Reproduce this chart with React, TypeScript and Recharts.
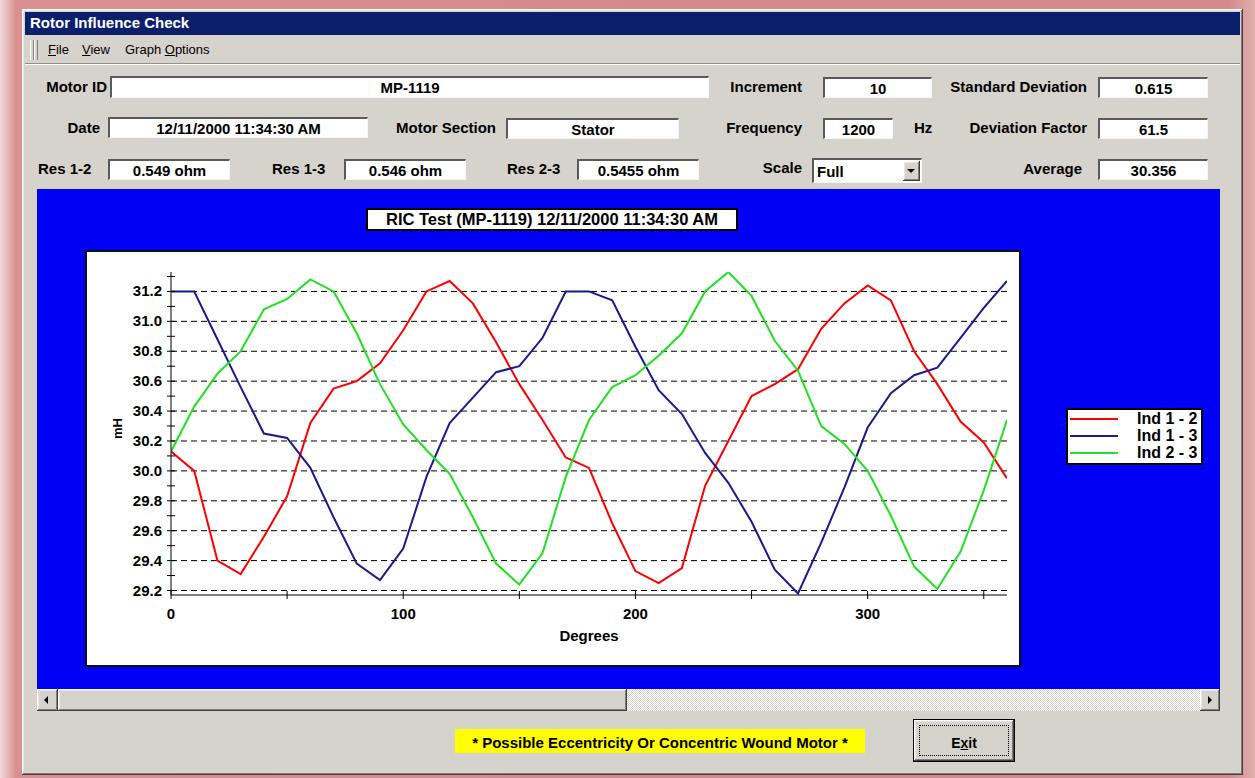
import React from 'react';
import { LineChart, Line, XAxis, YAxis, CartesianGrid, Legend, Label } from 'recharts';

// ---------- data ----------
const degrees = [0, 10, 20, 30, 40, 50, 60, 70, 80, 90, 100, 110, 120, 130, 140, 150, 160, 170, 180, 190, 200, 210, 220, 230, 240, 250, 260, 270, 280, 290, 300, 310, 320, 330, 340, 350, 360];
const ind12 = [30.13, 30.0, 29.4, 29.31, 29.56, 29.83, 30.32, 30.55, 30.6, 30.72, 30.94, 31.2, 31.27, 31.12, 30.86, 30.58, 30.34, 30.09, 30.02, 29.65, 29.33, 29.25, 29.35, 29.9, 30.2, 30.5, 30.58, 30.68, 30.95, 31.12, 31.24, 31.14, 30.8, 30.58, 30.33, 30.19, 29.95];
const ind13 = [31.2, 31.2, 30.88, 30.56, 30.25, 30.22, 30.02, 29.69, 29.38, 29.27, 29.48, 29.96, 30.32, 30.49, 30.66, 30.7, 30.89, 31.2, 31.2, 31.14, 30.83, 30.54, 30.38, 30.12, 29.92, 29.66, 29.34, 29.18, 29.52, 29.89, 30.29, 30.52, 30.64, 30.69, 30.89, 31.09, 31.27];
const ind23 = [30.13, 30.43, 30.65, 30.8, 31.08, 31.15, 31.28, 31.2, 30.92, 30.58, 30.31, 30.14, 29.98, 29.69, 29.38, 29.24, 29.45, 29.96, 30.34, 30.56, 30.64, 30.77, 30.92, 31.2, 31.33, 31.17, 30.87, 30.67, 30.3, 30.18, 30.0, 29.7, 29.36, 29.21, 29.46, 29.87, 30.34];
const seriesNames = ['Ind 1 - 2', 'Ind 1 - 3', 'Ind 2 - 3'];
const xTicks = [0, 50, 100, 150, 200, 250, 300, 350];
const xTickLabels = [0, 100, 200, 300];
const yTicks = [29.2, 29.3, 29.4, 29.5, 29.6, 29.7, 29.8, 29.9, 30.0, 30.1, 30.2, 30.3, 30.4, 30.5, 30.6, 30.7, 30.8, 30.9, 31.0, 31.1, 31.2, 31.3];
const yTickLabels = [29.2, 29.4, 29.6, 29.8, 30.0, 30.2, 30.4, 30.6, 30.8, 31.0, 31.2];

const data = degrees.map((d, i) => ({ deg: d, ind12: ind12[i], ind13: ind13[i], ind23: ind23[i] }));

const FONT = '"Liberation Sans", Arial, sans-serif';
const GRAY = '#d6d3cc';
const UI = 15;

// ---------- chart parts ----------
const XTick = (props: any) => {
  const { x, y, payload } = props;
  const v = payload.value;
  const show = xTickLabels.some((t) => Math.abs(t - v) < 1e-6);
  return (
    <g>
      <line x1={x} x2={x} y1={y - 4} y2={y + 4} stroke="#000" />
      {show && (
        <text x={x} y={y + 24} textAnchor="middle" fontFamily={FONT} fontWeight="bold" fontSize={15} fill="#000">
          {v}
        </text>
      )}
    </g>
  );
};

const YTick = (props: any) => {
  const { x, y, payload } = props;
  const v = payload.value;
  const show = yTickLabels.some((t) => Math.abs(t - v) < 1e-6);
  return (
    <g>
      <line x1={x - 4} x2={x + 4} y1={y} y2={y} stroke="#000" />
      {show && (
        <text x={x - 9} y={y + 5} textAnchor="end" fontFamily={FONT} fontWeight="bold" fontSize={15} fill="#000">
          {v.toFixed(1)}
        </text>
      )}
    </g>
  );
};

const XLabelContent = (props: any) => {
  const vb = props.viewBox || { x: 0, y: 0, width: 0, height: 0 };
  return (
    <text x={vb.x + vb.width / 2} y={vb.y + 46} textAnchor="middle" fontFamily={FONT} fontWeight="bold" fontSize={15} fill="#000">
      Degrees
    </text>
  );
};

const YLabelContent = (props: any) => {
  const vb = props.viewBox || { x: 0, y: 0, width: 0, height: 0 };
  const cx = vb.x + 6;
  const cy = vb.y + vb.height / 2 - 5;
  return (
    <text x={cx} y={cy} transform={`rotate(-90, ${cx}, ${cy})`} textAnchor="middle" dominantBaseline="central" fontFamily={FONT} fontWeight="bold" fontSize={13} fill="#000">
      mH
    </text>
  );
};

const LegendBox = (props: any) => {
  const items = props.payload || [];
  return (
    <div style={{ width: 137, height: 57, boxSizing: 'border-box', background: '#fff', border: '2px solid #000' }}>
      {items.map((it: any) => (
        <div key={it.value} style={{ display: 'flex', alignItems: 'center', height: 17, font: `bold 16px ${FONT}`, color: '#000' }}>
          <span style={{ display: 'inline-block', marginLeft: 2, width: 48, height: 2, background: it.color }} />
          <span style={{ marginLeft: 19, whiteSpace: 'nowrap' }}>{it.value}</span>
        </div>
      ))}
    </div>
  );
};

// ---------- UI helpers ----------
const Lbl = ({ x, right, y, children, bold = true, size = UI }: any) => (
  <div
    style={{
      position: 'absolute',
      top: y - 9,
      height: 18,
      lineHeight: '18px',
      ...(right !== undefined ? { right: 1255 - right } : { left: x }),
      font: `${bold ? 'bold' : 'normal'} ${size}px ${FONT}`,
      color: '#000',
      whiteSpace: 'nowrap',
    }}
  >
    {children}
  </div>
);

const Box = ({ left, top, width, height, children, align = 'center', pad = 0 }: any) => (
  <div
    style={{
      position: 'absolute',
      left,
      top,
      width,
      height,
      boxSizing: 'border-box',
      background: '#fff',
      borderTop: '2px solid #5a5a5a',
      borderLeft: '2px solid #5a5a5a',
      borderBottom: '1px solid #f6f6f6',
      borderRight: '1px solid #f6f6f6',
      font: `bold ${UI}px ${FONT}`,
      color: '#000',
      textAlign: align,
      lineHeight: `${height - 2}px`,
      paddingLeft: pad,
      overflow: 'hidden',
      whiteSpace: 'nowrap',
    }}
  >
    {children}
  </div>
);

const raised = {
  background: GRAY,
  boxShadow: 'inset -1px -1px #404040, inset 1px 1px #ffffff, inset -2px -2px #808080, inset 2px 2px #e8e6e2',
  boxSizing: 'border-box' as const,
};

export default function App() {
  return (
    <div
      style={{
        position: 'absolute',
        left: 0,
        top: 0,
        width: 1255,
        height: 778,
        overflow: 'hidden',
        background: 'linear-gradient(90deg, #f3dcdc 0px, #d99090 16px, #d38a8a 50%, #d38a8a 98%, #e3b0b0 100%)',
        fontFamily: FONT,
      }}
    >
      {/* window */}
      <div style={{ position: 'absolute', left: 22, top: 9, width: 1221, height: 766, ...raised }} />
      {/* title bar */}
      <div style={{ position: 'absolute', left: 25, top: 12, width: 1215, height: 23, background: '#0b1f6a' }} />
      <Lbl x={30} y={23}>
        <span style={{ color: '#fff' }}>Rotor Influence Check</span>
      </Lbl>
      {/* menu */}
      <div style={{ position: 'absolute', left: 30, top: 40, width: 2, height: 20, borderLeft: '1px solid #fff', borderRight: '1px solid #808080' }} />
      <div style={{ position: 'absolute', left: 34, top: 40, width: 2, height: 20, borderLeft: '1px solid #fff', borderRight: '1px solid #808080' }} />
      <Lbl x={48} y={51} bold={false} size={13}>
        <u>F</u>ile
      </Lbl>
      <Lbl x={82} y={51} bold={false} size={13}>
        <u>V</u>iew
      </Lbl>
      <Lbl x={125} y={51} bold={false} size={13}>
        Graph <u>O</u>ptions
      </Lbl>
      <div style={{ position: 'absolute', left: 25, top: 63, width: 1215, height: 0, borderTop: '1px solid #909090', borderBottom: '1px solid #fff' }} />

      {/* row 1 */}
      <Lbl right={107} y={87}>Motor ID</Lbl>
      <Box left={110} top={76} width={599} height={22}>MP-1119</Box>
      <Lbl right={802} y={87}>Increment</Lbl>
      <Box left={823} top={77} width={109} height={21}>10</Box>
      <Lbl right={1087} y={87}>Standard Deviation</Lbl>
      <Box left={1098} top={77} width={110} height={21}>0.615</Box>

      {/* row 2 */}
      <Lbl right={100} y={128}>Date</Lbl>
      <Box left={108} top={117} width={260} height={21}>12/11/2000 11:34:30 AM</Box>
      <Lbl right={496} y={128}>Motor Section</Lbl>
      <Box left={506} top={118} width={173} height={21}>Stator</Box>
      <Lbl right={802} y={128}>Frequency</Lbl>
      <Box left={823} top={118} width={70} height={21}>1200</Box>
      <Lbl x={914} y={128}>Hz</Lbl>
      <Lbl right={1087} y={128}>Deviation Factor</Lbl>
      <Box left={1098} top={118} width={110} height={21}>61.5</Box>

      {/* row 3 */}
      <Lbl x={38} y={169}>Res 1-2</Lbl>
      <Box left={108} top={159} width={122} height={21}>0.549 ohm</Box>
      <Lbl x={272} y={169}>Res 1-3</Lbl>
      <Box left={344} top={159} width={122} height={21}>0.546 ohm</Box>
      <Lbl x={507} y={169}>Res 2-3</Lbl>
      <Box left={577} top={159} width={122} height={21}>0.5455 ohm</Box>
      <Lbl right={802} y={168}>Scale</Lbl>
      <Box left={812} top={158} width={110} height={25} align="left" pad={3}>
        Full
      </Box>
      <div style={{ position: 'absolute', left: 903, top: 161, width: 17, height: 20, ...raised }}>
        <div style={{ position: 'absolute', left: 4, top: 8, width: 0, height: 0, borderLeft: '4px solid transparent', borderRight: '4px solid transparent', borderTop: '4px solid #000' }} />
      </div>
      <Lbl right={1082} y={169}>Average</Lbl>
      <Box left={1098} top={159} width={110} height={21}>30.356</Box>

      {/* graph panel */}
      <div style={{ position: 'absolute', left: 37, top: 189, width: 1183, height: 500, background: '#0000f5' }}>
        <div style={{ position: 'absolute', left: 48, top: 61, width: 936, height: 417, background: '#fff', border: '2px solid #111', boxSizing: 'border-box' }} />
        <div
          style={{
            position: 'absolute',
            left: 329,
            top: 19,
            width: 372,
            height: 23,
            background: '#fff',
            border: '2px solid #000',
            boxSizing: 'border-box',
            textAlign: 'center',
            lineHeight: '19px',
            font: `bold 16.5px ${FONT}`,
            color: '#000',
            whiteSpace: 'nowrap',
          }}
        >
          RIC Test (MP-1119) 12/11/2000 11:34:30 AM
        </div>
        <div style={{ position: 'absolute', left: 0, top: 0 }}>
          <LineChart width={1183} height={500} data={data} margin={{ top: 83, right: 213, bottom: 44, left: 74 }}>
            <CartesianGrid vertical={false} horizontalValues={yTickLabels} stroke="#000" strokeDasharray="6 4" />
            <XAxis
              dataKey="deg"
              type="number"
              domain={[0, 360]}
              ticks={xTicks}
              interval={0}
              tickSize={0}
              tickMargin={0}
              tickLine={false}
              tick={<XTick />}
              axisLine={{ stroke: '#000' }}
              height={50}
              allowDataOverflow
            >
              <Label content={<XLabelContent />} />
            </XAxis>
            <YAxis
              type="number"
              domain={[29.17, 31.33]}
              ticks={yTicks}
              interval={0}
              tickSize={0}
              tickMargin={0}
              tickLine={false}
              tick={<YTick />}
              axisLine={{ stroke: '#000' }}
              width={60}
              allowDataOverflow
            >
              <Label content={<YLabelContent />} />
            </YAxis>
            <Legend
              layout="vertical"
              align="center"
              verticalAlign="middle"
              content={<LegendBox />}
              wrapperStyle={{ left: 1029, top: 219, width: 137, height: 57 }}
            />
            <Line type="linear" dataKey="ind12" name={seriesNames[0]} stroke="#ff0000" strokeWidth={2} dot={false} isAnimationActive={false} />
            <Line type="linear" dataKey="ind13" name={seriesNames[1]} stroke="#1a1a90" strokeWidth={2} dot={false} isAnimationActive={false} />
            <Line type="linear" dataKey="ind23" name={seriesNames[2]} stroke="#22e022" strokeWidth={2} dot={false} isAnimationActive={false} />
          </LineChart>
        </div>
      </div>

      {/* scrollbar */}
      <div style={{ position: 'absolute', left: 37, top: 689, width: 1183, height: 22, background: 'repeating-conic-gradient(#ffffff 0% 25%, #d6d3cc 0% 50%) 0 0 / 2px 2px' }} />
      <div style={{ position: 'absolute', left: 37, top: 689, width: 21, height: 22, ...raised }}>
        <div style={{ position: 'absolute', left: 7, top: 7, width: 0, height: 0, borderTop: '4px solid transparent', borderBottom: '4px solid transparent', borderRight: '4px solid #000' }} />
      </div>
      <div style={{ position: 'absolute', left: 58, top: 689, width: 569, height: 22, ...raised }} />
      <div style={{ position: 'absolute', left: 1200, top: 689, width: 20, height: 22, ...raised }}>
        <div style={{ position: 'absolute', left: 8, top: 7, width: 0, height: 0, borderTop: '4px solid transparent', borderBottom: '4px solid transparent', borderLeft: '4px solid #000' }} />
      </div>

      {/* bottom */}
      <div
        style={{
          position: 'absolute',
          left: 455,
          top: 729,
          width: 410,
          height: 24,
          background: '#ffff00',
          display: 'flex',
          alignItems: 'center',
          justifyContent: 'center',
          paddingTop: 2,
          boxSizing: 'border-box',
          font: `bold ${UI}px ${FONT}`,
          color: '#000',
          whiteSpace: 'nowrap',
        }}
      >
        * Possible Eccentricity Or Concentric Wound Motor *
      </div>
      <div style={{ position: 'absolute', left: 913, top: 719, width: 102, height: 43, border: '1px solid #000', boxSizing: 'border-box' }}>
        <div style={{ position: 'absolute', left: 0, top: 0, width: 100, height: 41, ...raised }}>
          <div
            style={{
              position: 'absolute',
              left: 5,
              top: 5,
              width: 90,
              height: 31,
              border: '1px dotted #000',
              boxSizing: 'border-box',
              display: 'flex',
              alignItems: 'center',
              justifyContent: 'center',
              paddingTop: 4,
              font: `bold 14px ${FONT}`,
              color: '#000',
            }}
          >
            <span>
              E<u>x</u>it
            </span>
          </div>
        </div>
      </div>
    </div>
  );
}
